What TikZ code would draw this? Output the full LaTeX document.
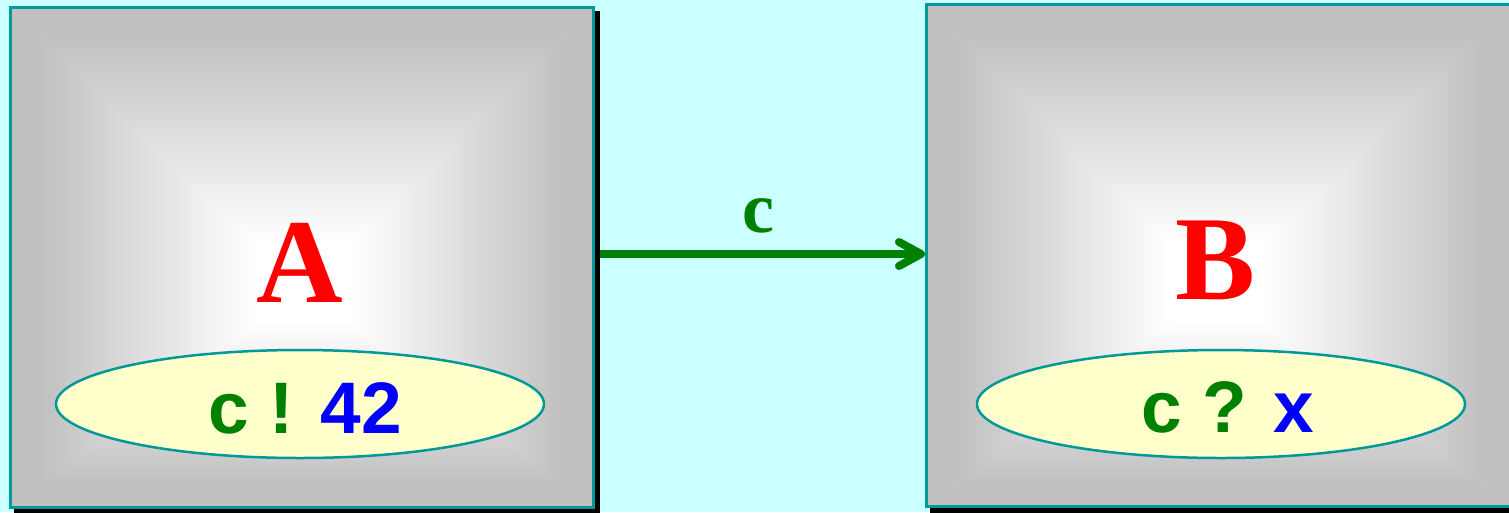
\documentclass[tikz,border=0pt]{standalone}
\usepackage{fontspec}
\setmainfont{Liberation Serif}
\newfontfamily\arialf{Liberation Sans}
\usetikzlibrary{arrows.meta,shapes.geometric}
\definecolor{bg}{HTML}{CCFFFF}
\definecolor{gry}{HTML}{C0C0C0}
\definecolor{tealb}{HTML}{009999}
\definecolor{ellfill}{HTML}{FFFFCC}
\definecolor{grn}{HTML}{008000}
\pgfdeclarehorizontalshading{edgeshade}{100bp}{color(0bp)=(gry); color(25bp)=(gry); color(31bp)=(gry); color(75bp)=(white); color(100bp)=(white)}
\newcommand\gradbox[8]{%
  \begin{scope}
  \clip (#1,#2) rectangle (#3,#4);
  \fill[gry!40] (#1,#2) rectangle (#3,#4);
  \fill[white] (#5,#6) rectangle (#7,#8);
  \shade[shading=edgeshade,shading angle=270] (#1,#2) -- (#3,#2) -- (#7,#6) -- (#5,#6) -- cycle;
  \shade[shading=edgeshade,shading angle=90] (#1,#4) -- (#3,#4) -- (#7,#8) -- (#5,#8) -- cycle;
  \shade[shading=edgeshade,shading angle=0] (#1,#2-3) -- (#5,#6-3) -- (#5,#8+3) -- (#1,#4+3) -- cycle;
  \shade[shading=edgeshade,shading angle=180] (#3,#2-3) -- (#7,#6-3) -- (#7,#8+3) -- (#3,#4+3) -- cycle;
  \end{scope}
}
\tikzset{
  shadowbox/.style={rectangle, fill=black, draw=none, inner sep=0pt},
  procbox/.style={rectangle, draw=tealb, line width=3pt, inner sep=0pt},
  ellbox/.style={ellipse, draw=tealb, fill=ellfill, line width=2.5pt, inner sep=0pt},
  bigletter/.style={text=red, font=\fontsize{120}{120}\selectfont\bfseries, anchor=base, inner sep=0pt},
  ellt/.style={font=\arialf\fontsize{73}{73}\selectfont\bfseries, anchor=base, inner sep=0pt},
  chlabel/.style={text=grn, font=\fontsize{72}{72}\selectfont\bfseries, anchor=base, inner sep=0pt},
  conn/.style={draw=grn, line width=8pt, -{Straight Barb[length=22pt,width=24pt,round]}}
}
\begin{document}
\begin{tikzpicture}[x=1pt,y=-1pt]
\useasboundingbox (0,0) rectangle (1509,512);
\clip (0,0) rectangle (1509,512);
\fill[bg] (0,0) rectangle (1509,512);
% shadows
\node[shadowbox, minimum width=586pt, minimum height=503pt] (Ash) at (307,262.5) {};
\node[shadowbox, minimum width=589pt, minimum height=505pt] (Bsh) at (1224.5,260.5) {};
% shading
\gradbox{10.5}{7.5}{593.5}{507.5}{255}{245}{350}{320}
\gradbox{926.5}{4.5}{1512.5}{506.5}{1170}{245}{1265}{320}
% boxes
\node[procbox, minimum width=583pt, minimum height=500pt] (A) at (302,257.5) {};
\node[procbox, minimum width=586pt, minimum height=502pt] (B) at (1219.5,255.5) {};
% letters
\node[bigletter] (Al) at (300,302) {A};
\node[bigletter] (Bl) at (1216,299) {B};
% ellipses
\node[ellbox, minimum width=488pt, minimum height=108pt] (Ae) at (300,404) {};
\node[ellbox, minimum width=488pt, minimum height=108pt] (Be) at (1221,404) {};
\node[ellt] (At) at (305,433) {\textcolor{grn}{c ! }\textcolor{blue}{42}};
\node[ellt] (Bt) at (1228,432) {\textcolor{grn}{c ? }\textcolor{blue}{x}};
% connector
\draw[conn] (Ash.east |- 0,254) -- (B.west |- 0,254);
\node[chlabel] (cl) at (758,232) {c};
\end{tikzpicture}
\end{document}
